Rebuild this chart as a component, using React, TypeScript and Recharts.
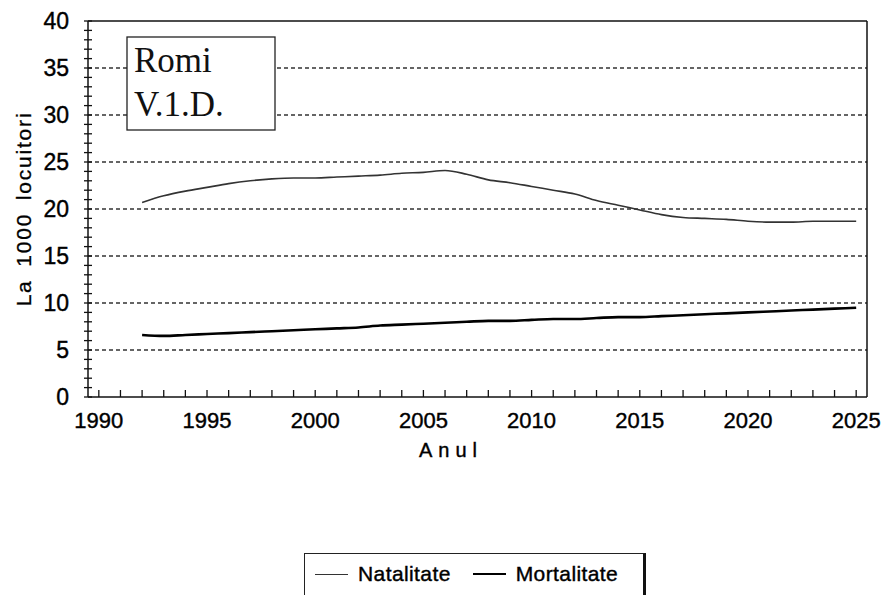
import React from 'react';
import { LineChart, Line, XAxis, YAxis, CartesianGrid, ReferenceLine } from 'recharts';

const years = [
  1992, 1993, 1994, 1995, 1996, 1997, 1998, 1999, 2000, 2001, 2002, 2003,
  2004, 2005, 2006, 2007, 2008, 2009, 2010, 2011, 2012, 2013, 2014, 2015,
  2016, 2017, 2018, 2019, 2020, 2021, 2022, 2023, 2024, 2025,
];

const natalitate = [
  20.7, 21.4, 21.9, 22.3, 22.7, 23.0, 23.2, 23.3, 23.3, 23.4, 23.5, 23.6,
  23.8, 23.9, 24.1, 23.7, 23.1, 22.8, 22.4, 22.0, 21.6, 20.9, 20.4, 19.9,
  19.4, 19.1, 19.0, 18.9, 18.7, 18.6, 18.6, 18.7, 18.7, 18.7,
];

const mortalitate = [
  6.6, 6.5, 6.6, 6.7, 6.8, 6.9, 7.0, 7.1, 7.2, 7.3, 7.4, 7.6,
  7.7, 7.8, 7.9, 8.0, 8.1, 8.1, 8.2, 8.3, 8.3, 8.4, 8.5, 8.5,
  8.6, 8.7, 8.8, 8.9, 9.0, 9.1, 9.2, 9.3, 9.4, 9.5,
];

const xTicks = [
  1990, 1991, 1992, 1993, 1994, 1995, 1996, 1997, 1998, 1999, 2000, 2001,
  2002, 2003, 2004, 2005, 2006, 2007, 2008, 2009, 2010, 2011, 2012, 2013,
  2014, 2015, 2016, 2017, 2018, 2019, 2020, 2021, 2022, 2023, 2024, 2025,
];

const yTicks = [
  0, 1, 2, 3, 4, 5, 6, 7, 8, 9, 10, 11, 12, 13, 14, 15, 16, 17, 18, 19, 20,
  21, 22, 23, 24, 25, 26, 27, 28, 29, 30, 31, 32, 33, 34, 35, 36, 37, 38, 39, 40,
];

const gridValues = [5, 10, 15, 20, 25, 30, 35];

const data = years.map((year, i) => ({
  year,
  natalitate: natalitate[i],
  mortalitate: mortalitate[i],
}));

const FONT = '"Liberation Sans", Arial, sans-serif';

// scanned original: text looks a bit heavier than plain Arial
function XTick(props: any) {
  const { x, y, payload } = props;
  const major = payload.value % 5 === 0;
  return (
    <g>
      <line x1={x} x2={x} y1={y} y2={y - 7} stroke="#111" strokeWidth={1.3} />
      {major && (
        <text x={x} y={y + 31} textAnchor="middle" fontSize={22} fontFamily={FONT} fill="#000" stroke="#000" strokeWidth={0.4}>
          {payload.value}
        </text>
      )}
    </g>
  );
}

function YTick(props: any) {
  const { x, y, payload } = props;
  const major = payload.value % 5 === 0;
  return (
    <g>
      <line x1={x - 4} x2={x + 4} y1={y} y2={y} stroke="#111" strokeWidth={1.3} />
      {major && (
        <text x={x - 19} y={y + 8} textAnchor="end" fontSize={23} fontFamily={FONT} fill="#000" stroke="#000" strokeWidth={0.4}>
          {payload.value}
        </text>
      )}
    </g>
  );
}

export default function App() {
  return (
    <div style={{ position: 'absolute', left: 0, top: 0, width: 882, height: 595, overflow: 'hidden', background: '#fff' }}>
      <LineChart
        width={882}
        height={595}
        data={data}
        margin={{ top: 21, right: 15, bottom: 168, left: 0 }}
      >
        <CartesianGrid
          vertical={false}
          horizontalValues={gridValues}
          stroke="#333"
          strokeWidth={1.4}
          strokeDasharray="4 3"
        />
        <XAxis
          dataKey="year"
          type="number"
          domain={[1989.5, 2025.5]}
          ticks={xTicks}
          interval={0}
          allowDataOverflow
          height={30}
          tickSize={0}
          tickMargin={0}
          tickLine={false}
          tick={<XTick />}
          axisLine={{ stroke: '#111', strokeWidth: 1.5 }}
        />
        <YAxis
          type="number"
          domain={[0, 40]}
          ticks={yTicks}
          interval={0}
          width={88}
          tickSize={0}
          tickMargin={0}
          tickLine={false}
          tick={<YTick />}
          axisLine={{ stroke: '#111', strokeWidth: 1.5 }}
        />
        <ReferenceLine y={40} stroke="#111" strokeWidth={1.5} />
        <ReferenceLine x={2025.5} stroke="#111" strokeWidth={1.5} />
        <Line
          type="monotone"
          dataKey="natalitate"
          stroke="#333"
          strokeWidth={1.6}
          dot={false}
          isAnimationActive={false}
        />
        <Line
          type="monotone"
          dataKey="mortalitate"
          stroke="#000"
          strokeWidth={2.6}
          dot={false}
          isAnimationActive={false}
        />
      </LineChart>

      <svg width={882} height={595} style={{ position: 'absolute', left: 0, top: 0, pointerEvents: 'none' }}>
        <rect x={127} y={37} width={148} height={93} fill="#fff" stroke="#222" strokeWidth={1.3} />
        <text x={134} y={72} fontSize={35} fontFamily='"Liberation Serif", "Times New Roman", serif' fill="#111">
          Romi
        </text>
        <text x={134} y={116} fontSize={35} fontFamily='"Liberation Serif", "Times New Roman", serif' fill="#111">
          V.1.D.
        </text>
        <text
          x={0}
          y={0}
          transform="translate(31, 209) rotate(-90)"
          textAnchor="middle"
          fontSize={21}
          letterSpacing={1.8}
          wordSpacing={5}
          fontFamily={FONT}
          fill="#000"
          stroke="#000"
          strokeWidth={0.3}
        >
          La 1000 locuitori
        </text>
        <text x={451} y={457} textAnchor="middle" fontSize={20} letterSpacing={6} fontFamily={FONT} fill="#000" stroke="#000" strokeWidth={0.4}>
          Anul
        </text>
      </svg>

      <div
        style={{
          position: 'absolute',
          left: 304,
          top: 553,
          width: 338,
          height: 60,
          borderTop: '1.5px solid #222',
          borderLeft: '1.5px solid #222',
          borderRight: '3px solid #111',
          fontFamily: FONT,
          fontSize: 21,
          color: '#000',
          WebkitTextStroke: '0.4px #000',
        }}
      >
        <div style={{ display: 'flex', alignItems: 'center', height: 40, paddingLeft: 10 }}>
          <span style={{ display: 'inline-block', width: 33, borderTop: '1.6px solid #333', marginRight: 10 }} />
          <span style={{ letterSpacing: 0.4 }}>Natalitate</span>
          <span style={{ display: 'inline-block', width: 33, borderTop: '2.4px solid #000', marginLeft: 22, marginRight: 10 }} />
          <span style={{ letterSpacing: 0.4 }}>Mortalitate</span>
        </div>
      </div>
    </div>
  );
}
